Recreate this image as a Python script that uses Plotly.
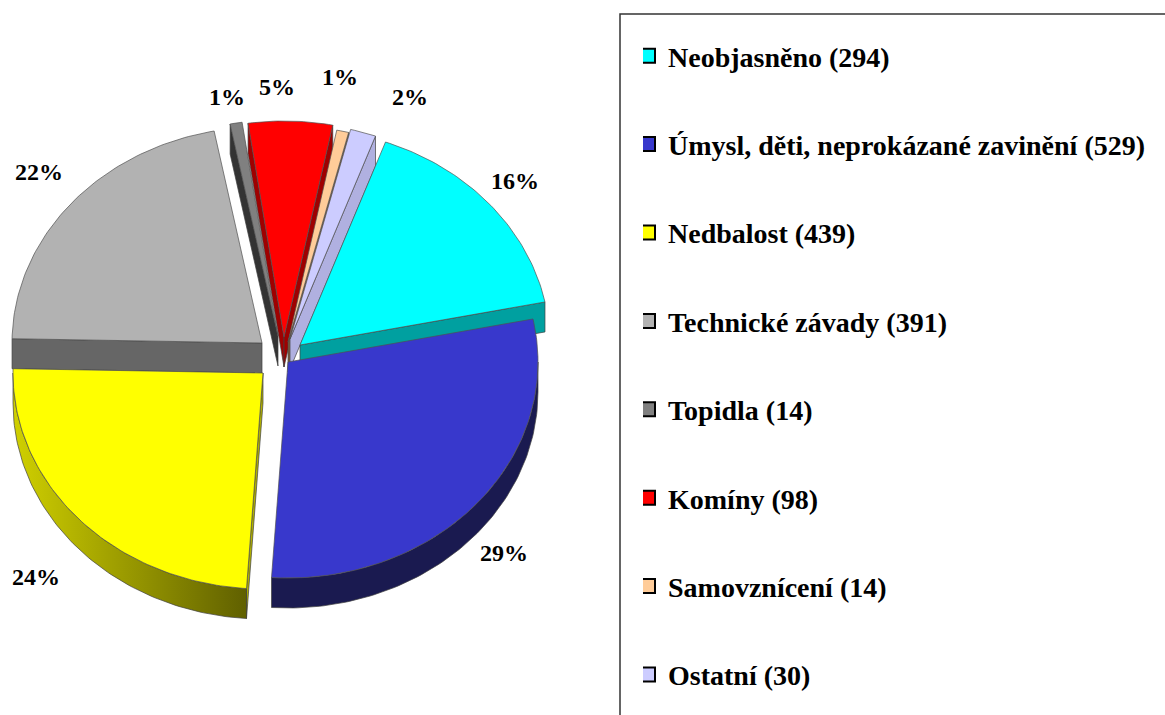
import math
import plotly.graph_objects as go

categories = ["Neobjasněno", "Úmysl, děti, neprokázané zavinění", "Nedbalost", "Technické závady",
              "Topidla", "Komíny", "Samovznícení", "Ostatní"]
values = [294, 529, 439, 391, 14, 98, 14, 30]

top_colors = ["#00FFFF", "#3838CC", "#FFFF00", "#B2B2B2", "#808080", "#FF0000", "#FFCC99", "#CCCCFF"]
side_colors = ["#00A0A0", "#1A1A50", "#B0B000", "#666666", "#333333", "#A00000", "#806040", "#B0B0E0"]

# layout of the tilted, exploded pie (in page pixels)
APEX = [(300, 345), (288, 362), (263, 373), (262, 343), (278, 336), (284, 337), (288, 342), (290, 339)]
RX, RY, DEPTH, START = 250, 216, 30, 20
DRAW_ORDER = [4, 5, 6, 7, 3, 0, 2, 1]
LABEL_POS = [(515, 181), (504, 553), (36, 577), (39, 172), (227, 97), (277, 87), (340, 77), (410, 97)]

total = sum(values)
angles = [START]
for v in values:
    angles.append(angles[-1] + 360 * v / total)


def pt(i, deg, dz=0):
    r = math.radians(deg)
    return APEX[i][0] + RX * math.sin(r), APEX[i][1] - RY * math.cos(r) + dz


def arc(i, a, b, dz=0):
    n = max(2, int(abs(b - a)) + 2)
    return [pt(i, a + (b - a) * k / (n - 1), dz) for k in range(n)]


def poly(points, fill, name, line="#404040", gradient=None):
    xs = [p[0] for p in points] + [points[0][0]]
    ys = [p[1] for p in points] + [points[0][1]]
    kw = dict(fillgradient=gradient) if gradient else dict(fillcolor=fill)
    return go.Scatter(x=xs, y=ys, mode="lines", fill="toself", line=dict(color=line, width=0.7),
                      showlegend=False, hoverinfo="text", text=name, **kw)


fig = go.Figure()
for i in DRAW_ORDER:
    a, b = angles[i], angles[i + 1]
    name = categories[i]
    ax, ay = APEX[i]
    # radial faces that look towards the viewer
    if math.cos(math.radians(a - 90)) < 0:
        p = pt(i, a)
        fig.add_trace(poly([(ax, ay), p, (p[0], p[1] + DEPTH), (ax, ay + DEPTH)], side_colors[i], name))
    if math.cos(math.radians(b + 90)) < 0:
        p = pt(i, b)
        fig.add_trace(poly([(ax, ay), p, (p[0], p[1] + DEPTH), (ax, ay + DEPTH)], side_colors[i], name))
    # outer wall
    lo, hi = max(a, 90), min(b, 270)
    if hi > lo:
        wall = arc(i, lo, hi) + arc(i, hi, lo, DEPTH)
        grad = None
        if i == 2:
            grad = dict(type="horizontal", colorscale=[[0, "#D0D000"], [1, "#606000"]])
        fig.add_trace(poly(wall, side_colors[i], name, gradient=grad))
    # top face
    fig.add_trace(poly([(ax, ay)] + arc(i, a, b), top_colors[i], name, line="#505050"))

# legend entries
for i, c in enumerate(categories):
    fig.add_trace(go.Scatter(x=[None], y=[None], mode="markers", name=f"{c} ({values[i]})",
                             legendgroup=str(i),
                             marker=dict(symbol="square", size=14, color=top_colors[i],
                                         line=dict(color="black", width=2))))

FONT = "Liberation Serif"
for i, (x, y) in enumerate(LABEL_POS):
    fig.add_annotation(x=x, y=y, text=f"<b>{round(100 * values[i] / total)}%</b>", showarrow=False,
                       font=dict(family=FONT, size=24, color="black"))

fig.add_shape(type="rect", x0=620, y0=14, x1=1200, y1=760, line=dict(color="#333333", width=1.5), layer="below")

fig.update_layout(
    width=1165, height=715, margin=dict(l=0, r=0, t=0, b=0),
    paper_bgcolor="white", plot_bgcolor="white",
    xaxis=dict(range=[0, 1165], visible=False, fixedrange=True),
    yaxis=dict(range=[715, 0], visible=False, fixedrange=True),
    showlegend=True,
    legend=dict(x=643 / 1165, y=1 - 31 / 715, xanchor="left", yanchor="top", bgcolor="rgba(0,0,0,0)",
                tracegroupgap=49, indentation=-15, itemclick=False, itemdoubleclick=False,
                font=dict(family=FONT, size=28, color="black", weight="bold")),
)
fig.write_html("out.html", config=dict(displayModeBar=False), post_script="document.body.style.margin='0';")
